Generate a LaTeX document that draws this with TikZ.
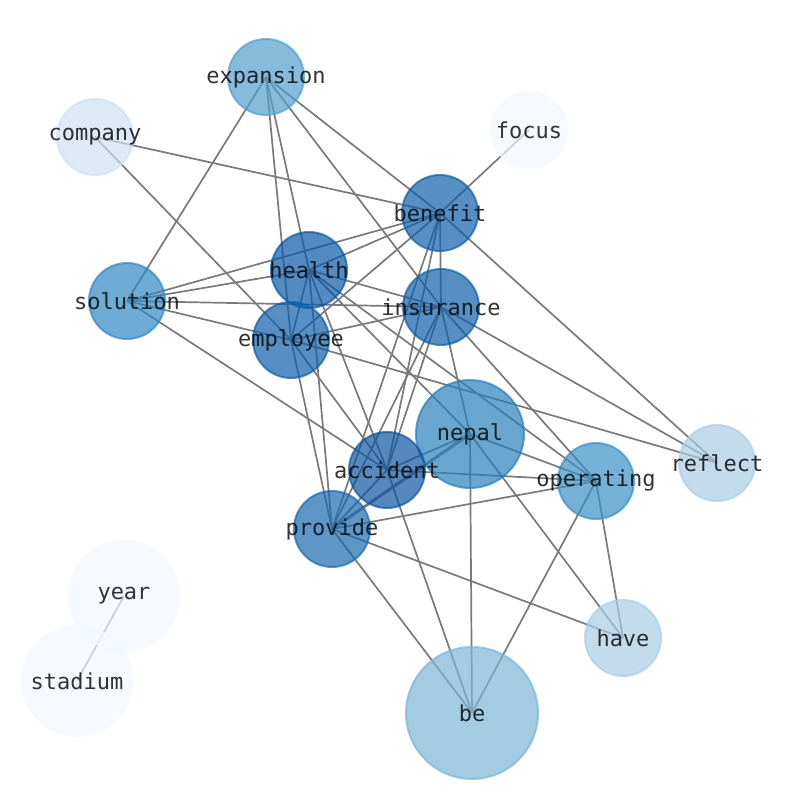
\documentclass[tikz,border=0pt]{standalone}
\usepackage{fontspec}
\newfontfamily\wordfont{DejaVu Sans Mono}
\usetikzlibrary{backgrounds}
\definecolor{edgegray}{HTML}{7A7A7A}
\definecolor{bDark}{RGB}{14,86,162}
\definecolor{bHealth}{RGB}{11,89,168}
\definecolor{bBenefit}{RGB}{16,95,171}
\definecolor{bProvide}{RGB}{26,105,176}
\definecolor{bNepal}{RGB}{42,128,186}
\definecolor{bSolution}{RGB}{49,136,195}
\definecolor{bOperating}{RGB}{59,142,196}
\definecolor{bExpansion}{RGB}{82,158,205}
\definecolor{bBe}{RGB}{124,181,214}
\definecolor{bHave}{RGB}{169,205,229}
\definecolor{bCompany}{RGB}{208,224,242}
\definecolor{bFocus}{RGB}{242,248,255}

\begin{document}
\begin{tikzpicture}[x=0.5pt, y=-0.5pt,
    word/.style={font=\wordfont\fontsize{11}{13}\selectfont, text=black, text opacity=0.8},
    vertex/.style 2 args={circle, inner sep=0pt, minimum size=#1, draw=#2, fill=#2,
      fill opacity=0.7, draw opacity=0.7, line width=1pt},
    link/.style={draw=edgegray, line width=0.85pt}]
  \useasboundingbox (0,0) rectangle (794,790);
  \path
    (266,77) node[vertex={38pt}{bExpansion}, label={[word]center:expansion}] (expansion) {}
    (95,137) node[vertex={38pt}{bCompany}, label={[word]center:company}] (company) {}
    (529,130) node[vertex={38pt}{bFocus}, label={[word]center:focus}] (focus) {}
    (440,213) node[vertex={38pt}{bBenefit}, label={[word]center:benefit}] (benefit) {}
    (309,270) node[vertex={38pt}{bHealth}, label={[word]center:health}] (health) {}
    (127,301) node[vertex={38pt}{bSolution}, label={[word]center:solution}] (solution) {}
    (441,307) node[vertex={38pt}{bBenefit}, label={[word]center:insurance}] (insurance) {}
    (291,340) node[vertex={38pt}{bBenefit}, label={[word]center:employee}] (employee) {}
    (470,434) node[vertex={54pt}{bNepal}, label={[word]center:nepal}] (nepal) {}
    (387,470) node[vertex={38pt}{bDark}, label={[word]center:accident}] (accident) {}
    (596,481) node[vertex={38pt}{bOperating}, label={[word]center:operating}] (operating) {}
    (717,463) node[vertex={38pt}{bHave}, label={[word]center:reflect}] (reflect) {}
    (332,529) node[vertex={38pt}{bProvide}, label={[word]center:provide}] (provide) {}
    (124,596) node[vertex={55pt}{bFocus}, label={[word]center:year}] (year) {}
    (77,681) node[vertex={55pt}{bFocus}, label={[word]center:stadium}] (stadium) {}
    (623,638) node[vertex={38pt}{bHave}, label={[word]center:have}] (have) {}
    (472,713) node[vertex={66pt}{bBe}, label={[word]center:be}] (be) {};
  \begin{scope}[on background layer]
  \begin{scope}[link]
    \draw (expansion.center) to (solution.center);
    \draw (expansion.center) to (health.center);
    \draw (expansion.center) to (employee.center);
    \draw (expansion.center) to (benefit.center);
    \draw (expansion.center) to (insurance.center);
    \draw (company.center) to (benefit.center);
    \draw (company.center) to (employee.center);
    \draw (focus.center) to (benefit.center);
    \draw (benefit.center) to (solution.center);
    \draw (benefit.center) to (health.center);
    \draw (benefit.center) to (employee.center);
    \draw (benefit.center) to (insurance.center);
    \draw (benefit.center) to (accident.center);
    \draw (benefit.center) to (provide.center);
    \draw (benefit.center) to (reflect.center);
    \draw (health.center) to (solution.center);
    \draw (health.center) to (insurance.center);
    \draw (health.center) to (employee.center);
    \draw (health.center) to (nepal.center);
    \draw (health.center) to (accident.center);
    \draw (health.center) to (provide.center);
    \draw (health.center) to (operating.center);
    \draw (solution.center) to (insurance.center);
    \draw (solution.center) to (employee.center);
    \draw (solution.center) to (accident.center);
    \draw (insurance.center) to (employee.center);
    \draw (insurance.center) to (reflect.center);
    \draw (insurance.center) to (nepal.center);
    \draw (insurance.center) to (accident.center);
    \draw (insurance.center) to (provide.center);
    \draw (insurance.center) to (operating.center);
    \draw (employee.center) to (reflect.center);
    \draw (employee.center) to (accident.center);
    \draw (employee.center) to (provide.center);
    \draw (nepal.center) to (accident.center);
    \draw[line width=1.5pt] (nepal.center) to (provide.center);
    \draw (nepal.center) to (operating.center);
    \draw (nepal.center) to (have.center);
    \draw (nepal.center) to (be.center);
    \draw (accident.center) to (provide.center);
    \draw (accident.center) to (operating.center);
    \draw (accident.center) to (be.center);
    \draw (provide.center) to (operating.center);
    \draw (provide.center) to (have.center);
    \draw (provide.center) to (be.center);
    \draw (operating.center) to (have.center);
    \draw (operating.center) to (be.center);
    \draw (year.center) to (stadium.center);
  \end{scope}
  \end{scope}
\end{tikzpicture}
\end{document}
